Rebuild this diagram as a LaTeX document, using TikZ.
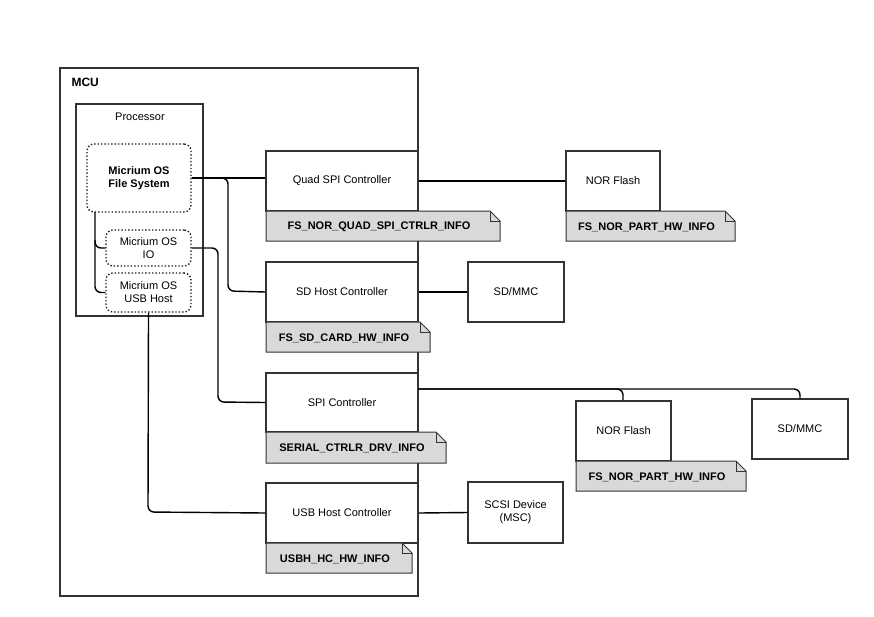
\documentclass[tikz,border=0pt]{standalone}
\usepackage{fontspec}
\setmainfont{Liberation Sans}
\begin{document}
\begin{tikzpicture}[x=1pt,y=-1pt,
  box/.style={draw=black!80,line width=1.3pt,fill=white},
  dotbox/.style={draw=black!90,line width=1.4pt,dotted,rounded corners=7pt},
  wire/.style={draw=black,line width=1.4pt,rounded corners=6pt},
  notefill/.style={draw=black!80,line width=1pt,fill=black!15},
  every node/.style={font=\fontsize{11}{13}\selectfont,align=center}]
\useasboundingbox (0,0) rectangle (874,616);
\newcommand\mynote[6]{%
  \draw[notefill] (#2,#3) -- (#4-10,#3) -- (#4,#3+10) -- (#4,#5) -- (#2,#5) -- cycle;
  \draw[black!80,line width=1pt] (#4-10,#3) -- (#4-10,#3+10) -- (#4,#3+10);
  \node[font=\fontsize{11}{13}\selectfont\bfseries] (#1) at ({(#2+#4)/2-4},{(#3+#5)/2+1}) {#6};}
\newcommand\bx[6]{\node[box,minimum width={#4-#2},minimum height={#5-#3},inner sep=0pt] (#1) at ({(#2+#4)/2},{(#3+#5)/2}) {#6};}
% MCU
\draw[box] (60,68) rectangle (418,596);
\node[font=\fontsize{12}{14}\selectfont\bfseries,anchor=west] (mcu) at (68,82) {MCU};
\draw[box] (76,104) rectangle (203,316);
\node (proc) at (140,117) {Processor};
\node[dotbox,minimum width=104,minimum height=68,font=\fontsize{11}{13}\selectfont\bfseries] (fs) at (139,178) {Micrium OS\\File System};
\node[dotbox,minimum width=85,minimum height=36,inner sep=0pt] (io) at (148.5,248) {Micrium OS\\IO};
\node[dotbox,minimum width=85,minimum height=39,inner sep=0pt] (usb) at (148.5,292.5) {Micrium OS\\USB Host};
% controllers
\bx{qspi}{266}{151}{418}{211}{Quad SPI Controller}
\mynote{nq}{266}{211}{500}{241}{FS\_NOR\_QUAD\_SPI\_CTRLR\_INFO}
\bx{sdh}{266}{262}{418}{322}{SD Host Controller}
\mynote{nsd}{266}{322}{430}{352}{FS\_SD\_CARD\_HW\_INFO}
\bx{spi}{266}{373}{418}{432}{SPI Controller}
\mynote{nspi}{266}{432}{446}{463}{SERIAL\_CTRLR\_DRV\_INFO}
\bx{usbh}{266}{483}{418}{543}{USB Host Controller}
\mynote{nusb}{266}{543}{412}{573}{USBH\_HC\_HW\_INFO}
% devices
\bx{nor1}{566}{151}{660}{211}{NOR Flash}
\mynote{nn1}{566}{211}{735}{241}{FS\_NOR\_PART\_HW\_INFO}
\bx{sdmmc}{468}{262}{564}{322}{SD/MMC}
\bx{nor2}{576}{401}{671}{461}{NOR Flash}
\mynote{nn2}{576}{461}{746}{491}{FS\_NOR\_PART\_HW\_INFO}
\bx{sdmmc2}{752}{399}{848}{459}{SD/MMC}
\bx{scsi}{468}{482}{563}{543}{SCSI Device\\(MSC)}
% wires
\draw[wire] (fs.east) -- (228,178) -- (228,291) -- (sdh.west);
\draw[wire] (fs.east) -- (qspi.west |- fs.east);
\draw[wire] (95,212) -- (95,248) -- (io.west);
\draw[wire] (95,240) -- (95,292.5) -- (usb.west);
\draw[wire] (io.east) -- (218,248) -- (218,402) -- (spi.west);
\draw[wire] (usb.south) -- (148,512) -- (usbh.west);
\draw[wire] (qspi.east |- 0,181) -- (nor1.west);
\draw[wire] (sdh.east) -- (sdmmc.west);
\draw[wire] (usbh.east) -- (scsi.west);
\draw[wire] (418,389) -- (623,389) -- (nor2.north -| 623,0);
\draw[wire] (418,389) -- (800,389) -- (sdmmc2.north -| 800,0);
\end{tikzpicture}
\end{document}
